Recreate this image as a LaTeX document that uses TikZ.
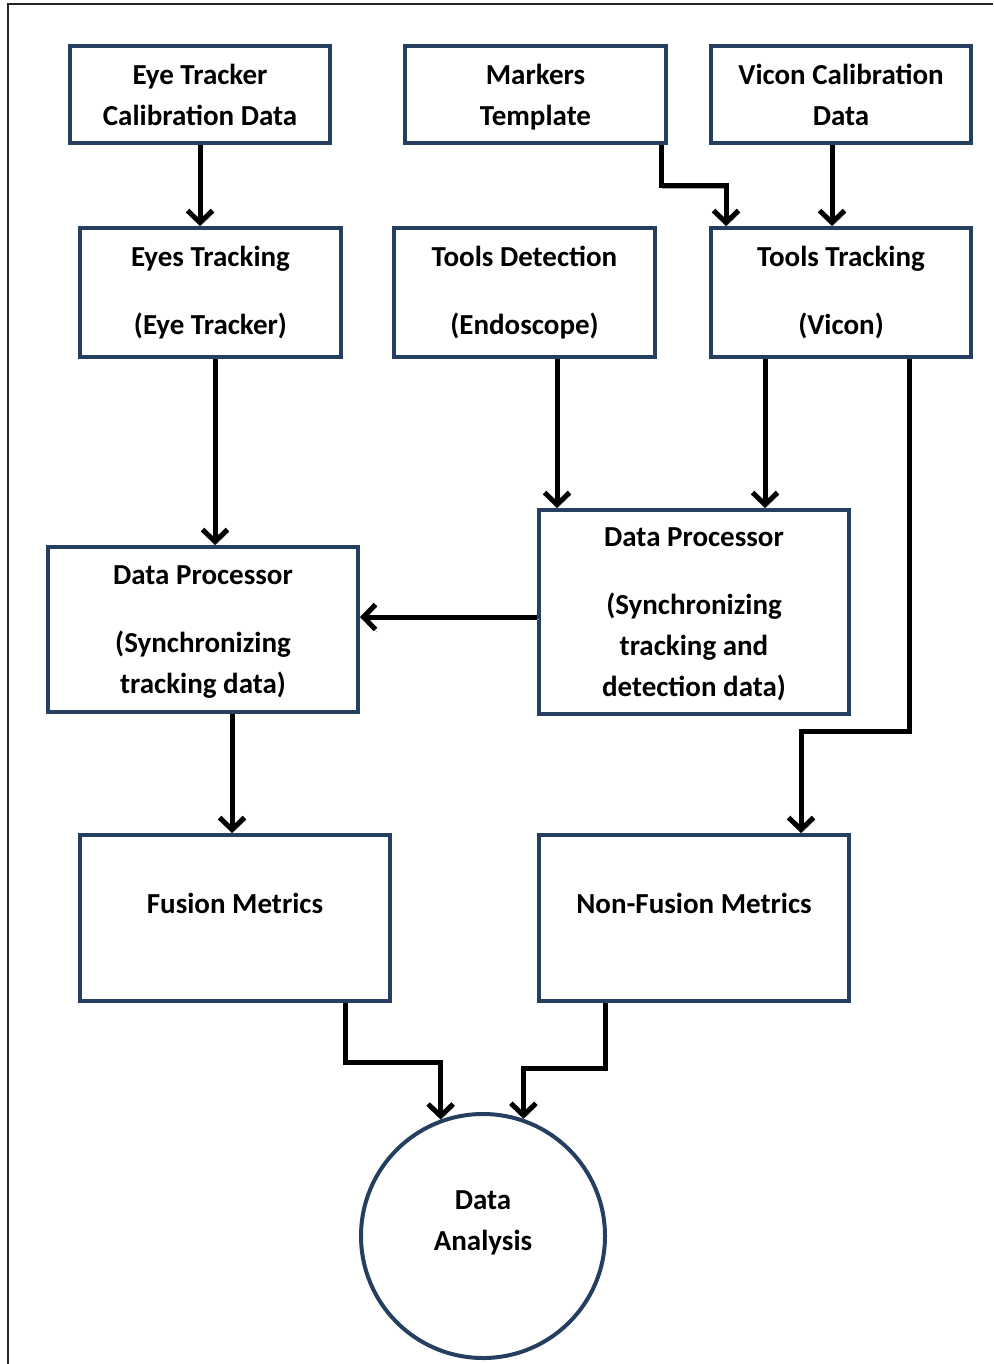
\documentclass[tikz,border=0pt]{standalone}
\usepackage{fontspec}
\setmainfont{Carlito}[BoldFont={Carlito Bold}]
\usetikzlibrary{arrows.meta}
\definecolor{boxblue}{HTML}{243F60}
\tikzset{
  x=1pt,y=-1pt,
  txt/.style={font=\bfseries\fontsize{29}{41}\selectfont},
  box/.style={draw=boxblue,line width=4pt,rectangle,align=center,txt,inner sep=0pt},
  arr/.style={line width=5pt,draw=black,-{Straight Barb[length=12pt,width=25pt]},
    preaction={draw=black!35,transform canvas={shift={(1.5pt,-2.5pt)}}}},
  frame/.style={line width=1.6pt,draw=black!85}
}
\begin{document}
\begin{tikzpicture}
\useasboundingbox (0,0) rectangle (993,1364);
\draw[frame] (8,1364) -- (8,4) -- (993,4);
\node[box,minimum width=260,minimum height=97] (A) at (200,94.5) {Eye Tracker\\Calibration Data};
\node[box,minimum width=261,minimum height=97,text depth=0pt] (B) at (535.5,94.5) {Markers\\Template};
\node[box,minimum width=260,minimum height=97] (C) at (841,94.5) {Vicon Calibration\\Data};
\node[box,minimum width=261,minimum height=129] (D) at (210.5,292.5) {Eyes Tracking\\[27pt](Eye Tracker)};
\node[box,minimum width=261,minimum height=129] (E) at (524.5,292.5) {Tools Detection\\[27pt](Endoscope)};
\node[box,minimum width=260,minimum height=129] (F) at (841,292.5) {Tools Tracking\\[27pt](Vicon)};
\node[box,minimum width=310,minimum height=165,text depth=0pt] (G) at (203,629.5) {Data Processor\\[27pt](Synchronizing\\tracking data)};
\node[box,minimum width=310,minimum height=204,text depth=0pt] (H) at (694,612) {Data Processor\\[27pt](Synchronizing\\tracking and\\detection data)};
\node[box,minimum width=310,minimum height=166,label={[txt,yshift=15pt]center:Fusion Metrics}] (I) at (235,918) {};
\node[box,minimum width=310,minimum height=166,label={[txt,yshift=15pt]center:Non-Fusion Metrics}] (J) at (694,918) {};
\node[box,circle,minimum size=244,label={[yshift=13pt,align=center,txt]center:Data\\Analysis}] (DA) at (483,1236) {};
% connectors
\draw[arr] (200,0 |- A.south) -- (200,0 |- D.north);
\draw[arr] (661,0 |- B.south) -- (661,186) -| (726,0 |- F.north);
\draw[arr] (832,0 |- C.south) -- (832,0 |- F.north);
\draw[arr] (215,0 |- D.south) -- (215,0 |- G.north);
\draw[arr] (557,0 |- E.south) -- (557,0 |- H.north);
\draw[arr] (765,0 |- F.south) -- (765,0 |- H.north);
\draw[arr] (H.west |- 0,617) -- (G.east |- 0,617);
\draw[arr] (909,0 |- F.south) -- (909,731) -| (801,0 |- J.north);
\draw[arr] (232,0 |- G.south) -- (232,0 |- I.north);
\draw[arr] (345,0 |- I.south) -- (345,1062) -| (DA.110.5);
\draw[arr] (605,0 |- J.south) -- (605,1068) -| (DA.71);
\end{tikzpicture}
\end{document}
